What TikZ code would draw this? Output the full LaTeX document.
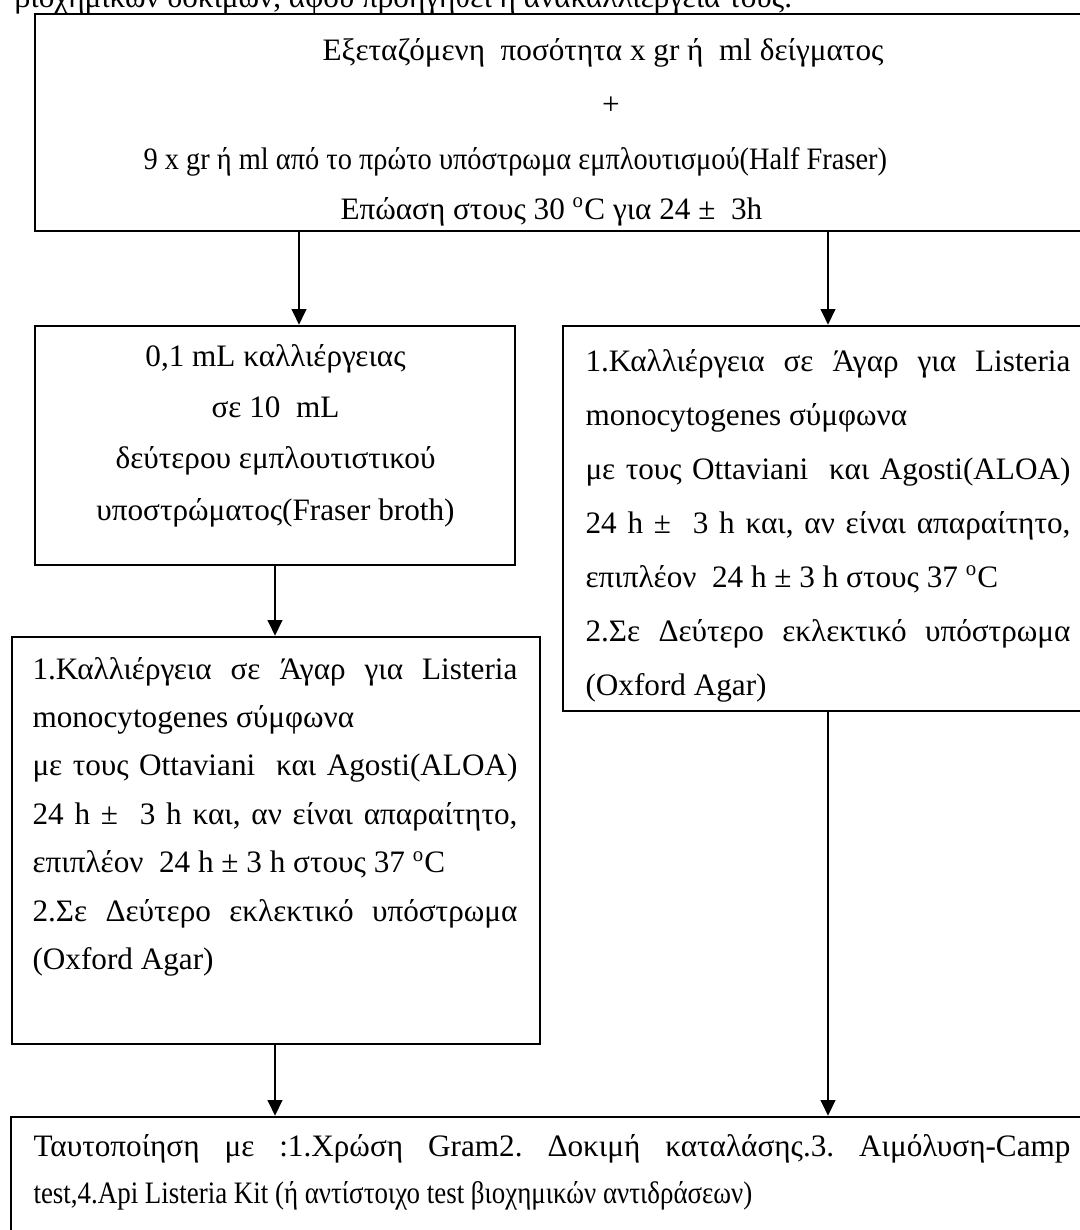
\documentclass[tikz,border=0pt]{standalone}
\usepackage{fontspec}
\setmainfont{Liberation Serif}
\usetikzlibrary{arrows.meta,fit}
\def\pxu{0.3846pt}
\begin{document}
\frenchspacing
\begin{tikzpicture}[x=\pxu,y=-\pxu,
  box/.style={draw,line width=1pt,rectangle,inner sep=0pt},
  arr/.style={line width=1pt,-{Triangle[length=6pt,width=5.6pt]}},
  txt/.style={inner sep=0pt,anchor=base west,font=\fontsize{12}{19.6}\selectfont}]
\useasboundingbox (0,0) rectangle (1080,1230);

% boxes
\node[box,fit={(35,14) (1110,231)}] (top) {};
\node[box,fit={(35,326) (515,565)}] (lu) {};
\node[box,fit={(563,326) (1110,711)}] (ru) {};
\node[box,fit={(12,637) (540,1044)}] (ll) {};
\node[box,fit={(11,1117) (1110,1260)}] (bt) {};

% connector columns
\coordinate (xa) at (299,0);
\coordinate (xb) at (828,0);
\coordinate (xc) at (275,0);
\draw[arr] (top.south -| xa) -- (lu.north -| xa);
\draw[arr] (top.south -| xb) -- (ru.north -| xb);
\draw[arr] (lu.south -| xc) -- (ll.north -| xc);
\draw[arr] (ll.south -| xc) -- (bt.north -| xc);
\draw[arr] (ru.south -| xb) -- (bt.north -| xb);

% last line of the running text above the chart, cut by the page edge
\begin{scope}
\clip (0,0) rectangle (1080,13);
\node[txt] (cap) at (14,7) {βιοχημικών δοκιμών, αφού προηγηθεί η ανακαλλιέργεια τους.};
\end{scope}

% first step
\node[txt] (t1) at (322,60) {Εξεταζόμενη\ \ ποσότητα x gr ή\ \ ml δείγματος};
\node[txt,anchor=base] (t2) at (611,114) {+};
\node[txt] (t3) at (143,169) {\scalebox{0.91}[1]{9 x gr ή ml από το πρώτο υπόστρωμα εμπλουτισμού(Half Fraser)}};
\node[txt] (t4) at (340,219) {Επώαση στους 30 \textsuperscript{o}C για 24 ±\ \ 3h};

% second enrichment
\node[txt] (lut) at (35,366) {\parbox[t]{184.6pt}{\centering\fontsize{12}{19.8}\selectfont
  0,1 mL καλλιέργειας\\
  σε 10\ \ mL\\
  δεύτερου εμπλουτιστικού\\
  υποστρώματος(Fraser broth)}};

% plating, right branch
\node[txt] (rut) at (585,371) {\parbox[t]{186.5pt}{\fontsize{12}{20.77}\selectfont
  \makebox[\linewidth][s]{1.Καλλιέργεια σε Άγαρ για Listeria}\\
  monocytogenes σύμφωνα\\
  \makebox[\linewidth][s]{με τους Ottaviani\ \ και Agosti(ALOA)}\\
  \makebox[\linewidth][s]{24 h ±\ \ 3 h και, αν είναι απαραίτητο,}\\
  επιπλέον\ \ 24 h ± 3 h στους 37 \textsuperscript{o}C\\
  \makebox[\linewidth][s]{2.Σε Δεύτερο εκλεκτικό υπόστρωμα}\\
  (Oxford Agar)}};

% plating, left branch
\node[txt] (llt) at (32,679) {\parbox[t]{186.5pt}{\fontsize{12}{18.65}\selectfont
  \makebox[\linewidth][s]{1.Καλλιέργεια σε Άγαρ για Listeria}\\
  monocytogenes σύμφωνα\\
  \makebox[\linewidth][s]{με τους Ottaviani\ \ και Agosti(ALOA)}\\
  \makebox[\linewidth][s]{24 h ±\ \ 3 h και, αν είναι απαραίτητο,}\\
  επιπλέον\ \ 24 h ± 3 h στους 37 \textsuperscript{o}C\\
  \makebox[\linewidth][s]{2.Σε Δεύτερο εκλεκτικό υπόστρωμα}\\
  (Oxford Agar)}};

% identification
\node[txt] (btt) at (33,1156) {\parbox[t]{398.8pt}{\fontsize{12}{18.3}\selectfont
  \makebox[\linewidth][s]{Ταυτοποίηση με :1.Χρώση Gram2. Δοκιμή καταλάσης.3. Αιμόλυση-Camp}\\
  \scalebox{0.863}[1]{test,4.Api Listeria Kit (ή αντίστοιχο test βιοχημικών αντιδράσεων)}}};
\end{tikzpicture}
\end{document}
